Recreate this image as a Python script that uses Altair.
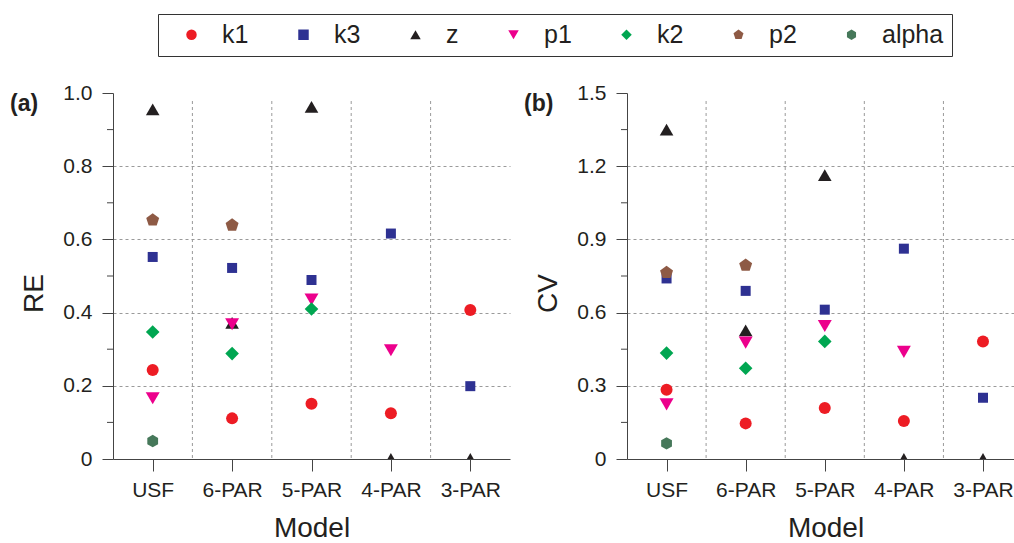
import json
import altair as alt
import pandas as pd

# ---------------- data ----------------
models = ["USF", "6-PAR", "5-PAR", "4-PAR", "3-PAR"]
series = ["k1", "k3", "z", "p1", "k2", "p2", "alpha"]
colors = ["#ED1C24", "#2E3192", "#231F20", "#EC008C", "#00A651", "#8E5A45", "#46785A"]

# (a) RE values, one entry per model (None = not estimated)
re_k1 = [0.243, 0.111, 0.151, 0.125, 0.407]
re_k3 = [0.552, 0.522, 0.489, 0.616, 0.199]
re_z = [0.955, 0.372, 0.962, 0.0, 0.0]
re_p1 = [0.166, 0.368, 0.436, 0.297, None]
re_k2 = [0.347, 0.288, 0.410, None, None]
re_p2 = [0.653, 0.639, None, None, None]
re_alpha = [0.049, None, None, None, None]

# (b) CV values
cv_k1 = [0.284, 0.146, 0.209, 0.156, 0.482]
cv_k3 = [0.740, 0.689, 0.612, 0.862, 0.251]
cv_z = [1.350, 0.527, 1.163, 0.0, 0.0]
cv_p1 = [0.224, 0.477, 0.545, 0.439, None]
cv_k2 = [0.434, 0.372, 0.482, None, None]
cv_p2 = [0.764, 0.794, None, None, None]
cv_alpha = [0.064, None, None, None, None]

re_ticks = [0, 0.2, 0.4, 0.6, 0.8, 1.0]
re_minor = [0.1, 0.3, 0.5, 0.7, 0.9]
cv_ticks = [0, 0.3, 0.6, 0.9, 1.2, 1.5]
cv_minor = [0.15, 0.45, 0.75, 1.05, 1.35]

# ---------------- styling ----------------
PENTAGON = "M0,-1L0.951,-0.309L0.588,0.809L-0.588,0.809L-0.951,-0.309Z"
HEXAGON = "M0,-1L0.866,-0.5L0.866,0.5L0,1L-0.866,0.5L-0.866,-0.5Z"
shapes = ["circle", "square", "triangle-up", "triangle-down", "diamond", PENTAGON, HEXAGON]
sizes = [144, 100, 185, 195, 185, 185, 155]

FONT = "Liberation Sans"
TXT = "#231F20"
GRID = "#9a9a9a"
AXC = "#444444"
H = 366


def long_table(values_by_series):
    rows = []
    for s, vals in zip(series, values_by_series):
        for i, v in enumerate(vals):
            if v is not None:
                rows.append({"idx": i, "model": models[i], "series": s, "value": v})
    return pd.DataFrame(rows)


re_df = long_table([re_k1, re_k3, re_z, re_p1, re_k2, re_p2, re_alpha])
cv_df = long_table([cv_k1, cv_k3, cv_z, cv_p1, cv_k2, cv_p2, cv_alpha])
bounds_df = pd.DataFrame({"b": [i + 0.5 for i in range(len(models) - 1)]})

x_label_expr = json.dumps(models) + "[datum.value]"
legend_label_expr = (
    f"datum.label == '{series[-1]}' ? datum.label + '\u00a0\u00a0\u00a0\u00a0' : datum.label"
)


def panel(df, tag, ytitle, ticks, minor, xmax, width, show_legend):
    ymax = ticks[-1]
    xscale = alt.Scale(domain=[-0.5, xmax], nice=False, zero=False)
    yscale = alt.Scale(domain=[0, ymax], nice=False, zero=False)
    if show_legend:
        legend = alt.Legend(
            orient="none", legendX=45, legendY=-79, direction="horizontal",
            columns=len(series), title=" ", titleOrient="left", titlePadding=13,
            titleFontSize=11, padding=8, strokeColor="#333333",
            labelFontSize=25, labelFont=FONT, labelColor=TXT, labelOffset=18,
            columnPadding=42, symbolSize=110, symbolStrokeWidth=0,
            labelExpr=legend_label_expr,
        )
    else:
        legend = None

    xaxis = alt.Axis(
        values=list(range(len(models))), labelExpr=x_label_expr, title="Model",
        grid=False, tickSize=12, labelPadding=8, labelFontSize=21, labelFlush=False,
        labelOverlap=False, titleFontSize=28, titlePadding=14, titleX=198.5,
    )
    yaxis = alt.Axis(
        values=ticks, labelExpr="datum.value == 0 ? '0' : format(datum.value, '.1f')",
        title=ytitle, tickSize=11, labelPadding=10, labelFontSize=21, labelFlush=False,
        labelOverlap=False, titleFontSize=28, titlePadding=14, titleY=200,
        grid=True, gridDash=[3, 3], gridColor=GRID,
        gridOpacity={"condition": {"test": f"datum.value <= 0 || datum.value >= {ymax}",
                                   "value": 0}, "value": 1},
    )

    vgrid = alt.Chart(bounds_df).mark_rule(color=GRID, strokeDash=[3, 3], strokeWidth=1).encode(
        x=alt.X("b:Q", scale=xscale, axis=xaxis),
        y=alt.value(8), y2=alt.value(H),
    )
    minor_ticks = alt.Chart(pd.DataFrame({"m": minor})).mark_rule(color=AXC).encode(
        y=alt.Y("m:Q", scale=yscale, axis=yaxis),
        x=alt.value(-6), x2=alt.value(0),
    )
    points = alt.Chart(df).mark_point(filled=True, opacity=1, clip=True).encode(
        x=alt.X("idx:Q", scale=xscale, axis=xaxis),
        y=alt.Y("value:Q", scale=yscale, axis=yaxis),
        color=alt.Color("series:N", scale=alt.Scale(domain=series, range=colors), legend=legend),
        shape=alt.Shape("series:N", scale=alt.Scale(domain=series, range=shapes), legend=legend),
        size=alt.Size("series:N", scale=alt.Scale(type="ordinal", domain=series, range=sizes),
                      legend=None),
    )
    tag_text = alt.Chart(pd.DataFrame({"t": [tag]})).mark_text(
        align="left", baseline="middle", fontSize=23, fontWeight="bold", color=TXT, font=FONT
    ).encode(text="t:N", x=alt.value(-103), y=alt.value(11))

    return alt.layer(vgrid, minor_ticks, points, tag_text).properties(width=width, height=H)


pa = panel(re_df, "(a)", "RE", re_ticks, re_minor, 4.5, 397, True)
pb = panel(cv_df, "(b)", "CV", cv_ticks, cv_minor, 4.392, 387, False)

chart = (
    alt.hconcat(pa, pb, spacing=117, bounds="flush")
    .resolve_legend(color="independent", shape="independent")
    .properties(padding={"left": 10, "top": 13, "right": 0, "bottom": 0})
    .configure(font=FONT)
    .configure_view(stroke=None)
    .configure_legend(strokeWidth=1)
    .configure_axis(
        domainColor=AXC, tickColor=AXC, labelColor=TXT, titleColor=TXT,
        labelFont=FONT, titleFont=FONT, titleFontWeight="normal",
    )
)

chart.save("out.html", embed_options={"renderer": "svg", "actions": False})
